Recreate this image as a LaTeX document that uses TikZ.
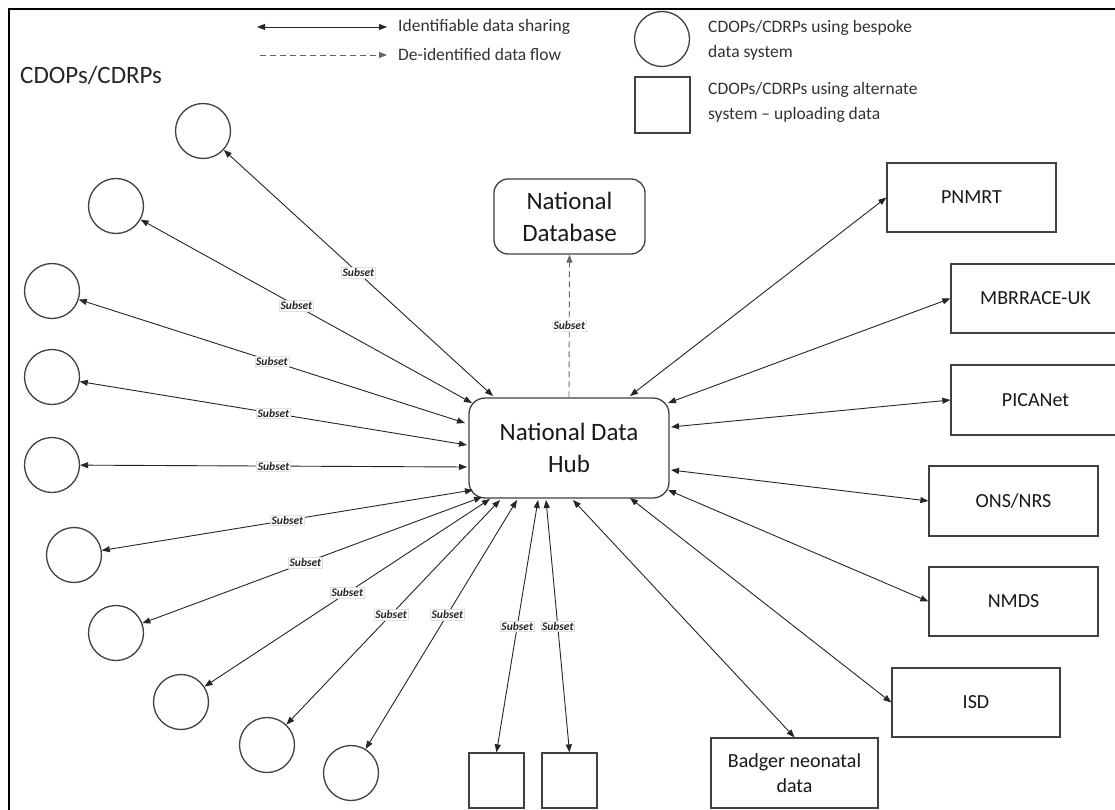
\documentclass[tikz,border=0pt]{standalone}
\usepackage{fontspec}
\setmainfont{Carlito}
\usetikzlibrary{arrows.meta,calc}
\begin{document}
\begin{tikzpicture}[x=1pt,y=-1pt,
  lc/.style={draw=black!75,line width=1.3pt},
  cdop/.style={lc,circle,minimum size=55pt,inner sep=0pt},
  sqbox/.style={lc,rectangle,minimum width=55pt,minimum height=55pt,inner sep=0pt},
  rbox/.style={lc,rectangle,minimum width=169pt,minimum height=69pt,inner sep=2pt,font=\fontsize{20}{25}\selectfont,align=center,text=black!90},
  hubbox/.style={lc,rectangle,rounded corners=16pt,align=center,font=\fontsize{25}{32}\selectfont,text=black!90},
  share/.style={draw=black!85,line width=0.9pt,{Triangle[length=8pt,width=6pt]}-{Triangle[length=8pt,width=6pt]}},
  deid/.style={draw=black!60,line width=0.9pt,dash pattern=on 6pt off 4pt,-{Triangle[length=8pt,width=6pt]}},
  sublabel/.style={fill=white,draw=black!12,line width=0.5pt,inner sep=1.2pt,font=\fontsize{11.5}{13}\selectfont\itshape\bfseries,text=black!85},
  legtext/.style={anchor=west,inner sep=0pt,font=\fontsize{17.5}{25}\selectfont,text=black!80,align=left}
]
\useasboundingbox (0,0) rectangle (1115,810);
\fill[white] (0,0) rectangle (1115,810);
% frame
\draw[line width=2pt] (9,810) -- (9,9) -- (1115,9);

% legend
\coordinate (l1a) at (257,27);
\coordinate (l1b) at (387,27);
\coordinate (l2a) at (260,55);
\coordinate (l2b) at (387,55);
\draw[share] (l1a) -- (l1b);
\draw[deid] (l2a) -- (l2b);
\node[legtext] (t1) at (398,27) {Identifiable data sharing};
\node[legtext] (t2) at (398,54) {De-identified data flow};
\node[cdop] (lc) at (662,39) {};
\node[sqbox,minimum height=56pt] (ls) at (662.5,105) {};
\node[legtext] (t3) at (708,40) {CDOPs/CDRPs using bespoke\\data system};
\node[legtext] (t4) at (708,102) {CDOPs/CDRPs using alternate\\system -- uploading data};

\node[anchor=west,inner sep=0pt,font=\fontsize{25}{30}\selectfont,text=black!85] (title) at (20,75) {CDOPs/CDRPs};

% central nodes
\node[hubbox,minimum width=200pt,minimum height=100pt] (hub) at (569,448) {National Data\\Hub};
\node[hubbox,minimum width=151pt,minimum height=75pt,rounded corners=14pt] (db) at (569.5,216.5) {National\\Database};

% circles
\node[cdop] (c1) at (203,131) {};
\node[cdop] (c2) at (116,206) {};
\node[cdop] (c3) at (52,291) {};
\node[cdop] (c4) at (52,377) {};
\node[cdop] (c5) at (52,465) {};
\node[cdop] (c6) at (74,555) {};
\node[cdop] (c7) at (116,633) {};
\node[cdop] (c8) at (181,702) {};
\node[cdop] (c9) at (267,745) {};
\node[cdop] (c10) at (351,773) {};

% squares
\node[sqbox] (s1) at (496.5,780.5) {};
\node[sqbox] (s2) at (569.5,780.5) {};

% right boxes
\node[rbox] (pnmrt) at (971.5,197.5) {PNMRT};
\node[rbox] (mbr) at (1035.5,298.5) {MBRRACE-UK};
\node[rbox,minimum height=70pt] (pica) at (1035.5,400) {PICANet};
\node[rbox,minimum height=70pt] (ons) at (1013.5,501) {ONS/NRS};
\node[rbox] (nmds) at (1013.5,601.5) {NMDS};
\node[rbox,minimum width=168pt] (isd) at (976,702.5) {ISD};
\node[rbox,minimum width=167pt,minimum height=70pt] (badger) at (794.5,773) {Badger neonatal\\data};

% connectors to circles
\draw[share] (c1) -- node[sublabel,midway]{Subset} ($(hub)+(-76,-52)$);
\draw[share] (c2) -- node[sublabel,pos=0.47]{Subset} ($(hub)+(-97,-45)$);
\draw[share] (c3) -- node[sublabel,midway]{Subset} ($(hub)+(-104,-25)$);
\draw[share] (c4) -- node[sublabel,midway]{Subset} ($(hub)+(-102,-3)$);
\draw[share] (c5) -- node[sublabel,midway]{Subset} ($(hub)+(-102,19)$);
\draw[share] (c6) -- node[sublabel,midway]{Subset} ($(hub)+(-96,42)$);
\draw[share] (c7) -- node[sublabel,pos=0.48]{Subset} ($(hub)+(-87,49)$);
\draw[share] (c8) -- node[sublabel,midway]{Subset} ($(hub)+(-79,51)$);
\draw[share] (c9) -- node[sublabel,pos=0.49]{Subset} ($(hub)+(-69,52)$);
\draw[share] (c10) -- node[sublabel,pos=0.54]{Subset} ($(hub)+(-52,52)$);

% squares
\draw[share] ($(hub)+(-31,52)$) -- node[sublabel,midway]{Subset} (s1.north);
\draw[share] ($(hub)+(-23,52)$) -- node[sublabel,midway]{Subset} (s2.north);

% database
\draw[deid] (hub.north) -- node[sublabel,midway]{Subset} (db.south);

% right side
\draw[share] ($(hub)+(4,52)$) -- (badger.north);
\draw[share] ($(hub)+(61,50)$) -- (isd.west);
\draw[share] ($(hub)+(99,42)$) -- (nmds.west);
\draw[share] ($(hub)+(102,22)$) -- (ons.west);
\draw[share] ($(hub)+(102,-21)$) -- (pica.west);
\draw[share] ($(hub)+(99,-45)$) -- (mbr.west);
\draw[share] ($(hub)+(61,-52)$) -- (pnmrt.west);
\end{tikzpicture}
\end{document}
